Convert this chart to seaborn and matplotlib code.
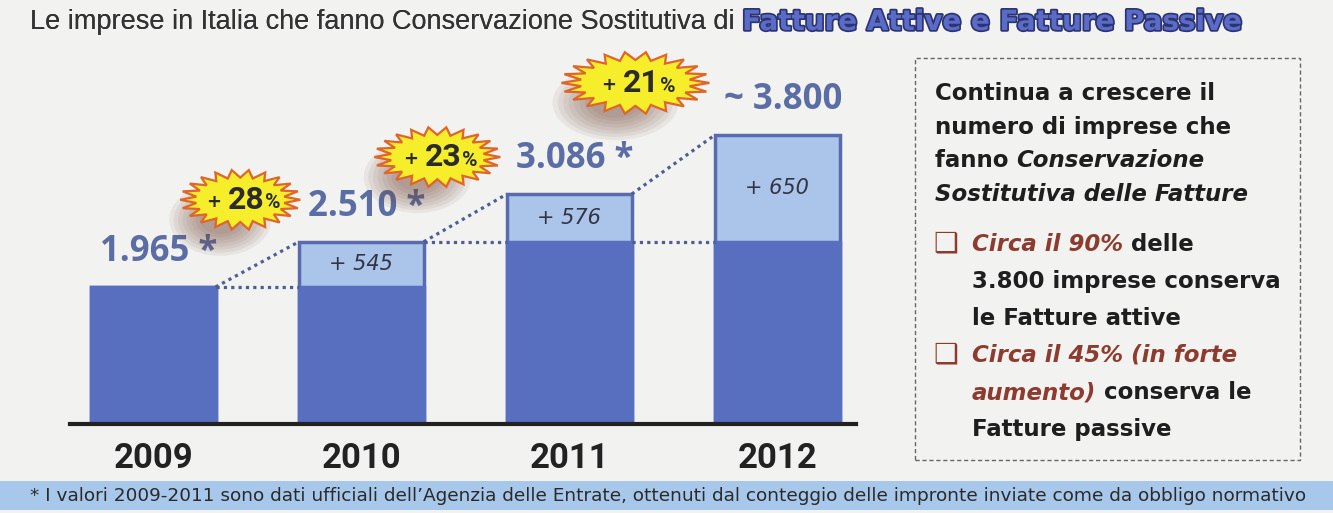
import matplotlib
matplotlib.use("Agg")
import matplotlib.patches as mpatches
import matplotlib.patheffects as pe
import matplotlib.pyplot as plt
import matplotlib.transforms as mtransforms
import numpy as np
import pandas as pd
import seaborn as sns

# data
years = ["2009", "2010", "2011", "2012"]
totals = [1965, 2510, 3086, 3800]
dark_part = [1965, 1965, 2510, 2510]  # as drawn in the original
increments = [None, 545, 576, 650]
total_labels = ["1.965 *", "2.510 *", "3.086 *", "~ 3.800"]
growth_pct = ["28", "23", "21"]

# colours
BG = "#F2F2F0"
DARK = "#586EBE"
LIGHT = "#AAC4EA"
EDGE = "#5A6AAE"
LABEL_C = "#5A6EA5"
RED = "#8E3B2F"
K = "#1E1E1E"
COND = ["Roboto", "DejaVu Sans"]

sns.set_theme(style="white")
plt.rcParams["font.family"] = ["DejaVu Sans"]

fig = plt.figure(figsize=(13.33, 5.13), dpi=100)
fig.patch.set_facecolor(BG)
ax = fig.add_axes([0.0525, 0.1735, 0.59, 0.71])
ax.set_facecolor("none")

df = pd.DataFrame({"year": years, "total": totals, "dark": dark_part})
sns.barplot(data=df, x="year", y="total", color=LIGHT, saturation=1, width=0.6,
            edgecolor=EDGE, linewidth=2.5, ax=ax, zorder=2)
sns.barplot(data=df, x="year", y="dark", color=DARK, saturation=1, width=0.6,
            edgecolor=DARK, linewidth=2.5, ax=ax, zorder=3)

ax.set_xlim(-0.4, 3.38)
ax.set_ylim(311, 4707)
ax.set_xlabel("")
ax.set_ylabel("")
ax.set_yticks([])
for side in ["top", "left", "right"]:
    ax.spines[side].set_visible(False)
ax.spines["bottom"].set_linewidth(3)
ax.spines["bottom"].set_color("#222222")
ax.spines["bottom"].set_zorder(5)
ax.tick_params(axis="x", length=0, pad=13)
for lab in ax.get_xticklabels():
    lab.set_fontfamily(COND)
    lab.set_fontweight("bold")
    lab.set_fontsize(25)
    lab.set_color("#222222")

# dotted connectors between bars
half = 0.3
for i in range(len(years) - 1):
    x0, x1 = i + half, i + 1 - half
    ax.plot([x0, x1], [dark_part[i + 1], dark_part[i + 1]], ls=(0, (1, 1.3)),
            lw=2.3, color="#4D5D95", zorder=4)
    ax.plot([x0, x1], [totals[i], totals[i + 1]], ls=(0, (1, 1.3)),
            lw=2.3, color="#4D5D95", zorder=4)

# value labels
for i, lab in enumerate(total_labels):
    ax.annotate(lab, (i, totals[i]), xytext=(4, 12), textcoords="offset points",
                ha="center", va="bottom", fontsize=25, fontweight="bold",
                family=["Open Sans", "DejaVu Sans"], color=LABEL_C, zorder=6)

# increments inside the light segments
for i, inc in enumerate(increments):
    if inc is None:
        continue
    ax.text(i, (dark_part[i] + totals[i]) / 2, f"+ {inc}", ha="center", va="center",
            fontsize=15, style="italic", color="#333344", zorder=6)

# starbursts (offsets in pixels from the top of the next bar)
star_offsets = [(-121, 42), (-132, 37), (-142, 52)]
star_sizes = [(0.60, 0.30), (0.63, 0.30), (0.74, 0.31)]
n_spikes = 22
ang = np.linspace(0, 2 * np.pi, 2 * n_spikes, endpoint=False)
rad = np.where(np.arange(2 * n_spikes) % 2 == 0, 1.0, 0.74)
for k, pct in enumerate(growth_pct):
    xd, yd = k + 1, totals[k + 1]
    dx, dy = star_offsets[k]
    rx, ry = star_sizes[k]
    base = fig.dpi_scale_trans + mtransforms.ScaledTranslation(xd, yd, ax.transData)
    cx, cy = dx / 100, dy / 100
    # soft shadow
    for s in np.linspace(1.0, 0.4, 8):
        ax.add_patch(mpatches.Ellipse((cx - 0.2, cy - 0.2), 2 * rx * 0.85 * s,
                                      2 * ry * 1.2 * s, transform=base,
                                      facecolor="#6E4536", edgecolor="none",
                                      alpha=0.08, clip_on=False, zorder=6))
    verts = np.column_stack([cx + rx * rad * np.cos(ang), cy + ry * rad * np.sin(ang)])
    ax.add_patch(mpatches.Polygon(verts, closed=True, transform=base,
                                  facecolor="#F6EE2A", edgecolor="#E0652A",
                                  lw=1.6, clip_on=False, zorder=7))
    main = ax.annotate(pct, (xd, yd), xytext=(dx + 6, dy), textcoords="offset pixels",
                       ha="center", va="center", fontsize=23, fontweight="bold",
                       family=COND, color="#2B2B2B", zorder=8)
    ax.annotate("+ ", xy=(0, 0.42), xycoords=main, ha="right", va="center",
                fontsize=13, fontweight="bold", color="#2B2B2B", zorder=8)
    ax.annotate("%", xy=(1, 0.08), xycoords=main, ha="left", va="bottom",
                fontsize=15, fontweight="bold", family=COND, color="#2B2B2B", zorder=8)

# title
t1 = fig.text(30 / 1333, 1 - 22 / 513,
              "Le imprese in Italia che fanno Conservazione Sostitutiva di ",
              ha="left", va="center", fontsize=19.5,
              family=["Liberation Sans", "DejaVu Sans"], color="#333333")
fig.add_artist(t1)
t2 = ax.annotate("Fatture Attive e Fatture Passive", xy=(1, 0.5), xycoords=t1,
                 ha="left", va="center", fontsize=20, fontweight="heavy",
                 family=["DejaVu Sans"], color="#5B6CC8", annotation_clip=False,
                 path_effects=[pe.withStroke(linewidth=2.5, foreground="#2C3470")])

# right text box
fig.add_artist(mpatches.Rectangle((915 / 1333, 1 - 460 / 513), 385 / 1333, 402 / 513,
                                  transform=fig.transFigure, facecolor="none",
                                  edgecolor="#666666", lw=1, ls=(0, (3, 2))))


def piece_line(x_px, y_px, pieces):
    prev = None
    for txt, color, style in pieces:
        kw = dict(fontsize=16.5, fontweight="bold", color=color, style=style)
        if prev is None:
            prev = fig.text(x_px / 1333, 1 - y_px / 513, txt, ha="left",
                            va="baseline", **kw)
        else:
            prev = ax.annotate(txt, xy=(1, 0), xycoords=prev, ha="left", va="bottom",
                               annotation_clip=False, **kw)


piece_line(935, 100, [("Continua a crescere il", K, "normal")])
piece_line(935, 134, [("numero di imprese che", K, "normal")])
piece_line(935, 167, [("fanno ", K, "normal"), ("Conservazione", K, "italic")])
piece_line(935, 201, [("Sostitutiva delle Fatture", K, "italic")])
piece_line(972, 251, [("Circa il 90%", RED, "italic"), (" delle", K, "normal")])
piece_line(972, 288, [("3.800 imprese conserva", K, "normal")])
piece_line(972, 325, [("le Fatture attive", K, "normal")])
piece_line(972, 362, [("Circa il 45% (in forte", RED, "italic")])
piece_line(972, 399, [("aumento)", RED, "italic"), (" conserva le", K, "normal")])
piece_line(972, 436, [("Fatture passive", K, "normal")])
for y_px in (251, 362):
    fig.text(933 / 1333, 1 - y_px / 513, "\u2751", ha="left", va="baseline",
             fontsize=20, color=RED)

# footer band
fig.add_artist(mpatches.Rectangle((0, 1 - 510 / 513), 1, 29 / 513,
                                  transform=fig.transFigure, facecolor="#A8C8EB",
                                  edgecolor="none"))
fig.text(30 / 1333, 1 - 496 / 513,
         "* I valori 2009-2011 sono dati ufficiali dell\u2019Agenzia delle Entrate, ottenuti dal "
         "conteggio delle impronte inviate come da obbligo normativo",
         ha="left", va="center", fontsize=13.3, color="#2A2A2A")

fig.savefig("out.png", dpi=100, facecolor=BG)
